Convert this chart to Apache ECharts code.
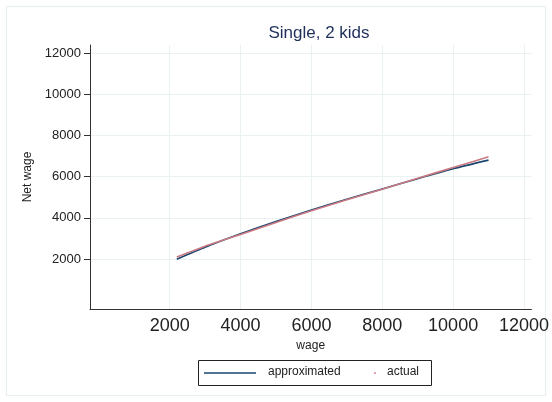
<!DOCTYPE html>
<html>
<head>
<meta charset="utf-8">
<script src="https://cdn.jsdelivr.net/npm/echarts@6/dist/echarts.min.js"></script>
<style>
  html, body { margin: 0; padding: 0; background: #ffffff; }
  #chart { width: 552px; height: 402px; }
</style>
</head>
<body>
<div id="chart"></div>
<script>
// Gross wage grid and the two net-wage schedules (single parent, 2 kids)
const wages        = [2200, 3000, 4000, 5000, 6000, 7000, 8000, 9000, 10000, 11000];
const approximated = [1990, 2570, 3220, 3820, 4380, 4900, 5400, 5900, 6380, 6800];
const actual       = [2100, 2620, 3190, 3770, 4340, 4880, 5390, 5920, 6440, 6960];

// Tick positions shown on both axes
const xTicks = [2000, 4000, 6000, 8000, 10000, 12000];
const yTicks = [2000, 4000, 6000, 8000, 10000, 12000];

const FONT = 'Liberation Sans';
const gridColor = '#eaf1f3';

const chart = echarts.init(document.getElementById('chart'), null, { renderer: 'canvas' });

const pairs = (xs, ys) => xs.map((x, i) => [x, ys[i]]);
const plain = v => String(v);

chart.setOption({
  animation: false,
  backgroundColor: '#ffffff',
  title: {
    text: 'Single, 2 kids',
    left: 314,
    top: 20,
    textAlign: 'center',
    textStyle: { fontFamily: FONT, fontSize: 17, fontWeight: 'normal', color: '#1e2f5a' }
  },
  grid: { left: 90, right: 14, top: 45, bottom: 93, containLabel: false },
  xAxis: {
    type: 'value',
    min: -250,
    max: 12210,
    name: 'wage',
    nameLocation: 'middle',
    nameGap: 31,
    nameTextStyle: { fontFamily: FONT, fontSize: 12, color: '#222' },
    axisLine: { show: true, onZero: false, lineStyle: { color: '#333', width: 1 } },
    axisTick: { show: false, customValues: xTicks },
    axisLabel: { customValues: xTicks, formatter: plain, fontFamily: FONT, fontSize: 18, color: '#222', margin: 8 },
    splitLine: { show: true, lineStyle: { color: gridColor, width: 1 } }
  },
  yAxis: {
    type: 'value',
    min: -430,
    max: 12390,
    name: 'Net wage',
    nameLocation: 'middle',
    nameGap: 55,
    nameRotate: 90,
    nameTextStyle: { fontFamily: FONT, fontSize: 12, color: '#222' },
    axisLine: { show: true, onZero: false, lineStyle: { color: '#333', width: 1 } },
    axisTick: { show: true, length: 6, customValues: yTicks, lineStyle: { color: '#333' } },
    axisLabel: { customValues: yTicks, formatter: plain, fontFamily: FONT, fontSize: 13, color: '#222', margin: 9 },
    splitLine: { show: true, lineStyle: { color: gridColor, width: 1 } }
  },
  series: [
    {
      name: 'approximated',
      type: 'line',
      data: pairs(wages, approximated),
      showSymbol: false,
      smooth: 0.2,
      lineStyle: { color: '#1a476f', width: 1.6 },
      z: 2
    },
    {
      name: 'actual',
      type: 'line',
      data: pairs(wages, actual),
      showSymbol: false,
      smooth: 0.2,
      lineStyle: { color: '#c97a82', width: 1.6 },
      z: 3
    }
  ],
  graphic: [
    // outer frame of the graph region
    { type: 'rect', shape: { x: 6.5, y: 6.5, width: 539, height: 389 },
      style: { fill: 'none', stroke: '#e6eef1', lineWidth: 1 }, silent: true, z: -1 },
    // legend box
    { type: 'rect', shape: { x: 198.5, y: 360.5, width: 233, height: 25 },
      style: { fill: '#ffffff', stroke: '#222', lineWidth: 1 }, silent: true },
    { type: 'line', shape: { x1: 204, y1: 373, x2: 256, y2: 373 },
      style: { stroke: '#1a476f', lineWidth: 1.4 }, silent: true },
    { type: 'text', left: 268, top: 366,
      style: { text: 'approximated', font: '12px "Liberation Sans"', fill: '#222' }, silent: true },
    { type: 'circle', shape: { cx: 375, cy: 373, r: 0.9 },
      style: { fill: '#c97a82' }, silent: true },
    { type: 'text', left: 387, top: 366,
      style: { text: 'actual', font: '12px "Liberation Sans"', fill: '#222' }, silent: true }
  ]
});
</script>
</body>
</html>
